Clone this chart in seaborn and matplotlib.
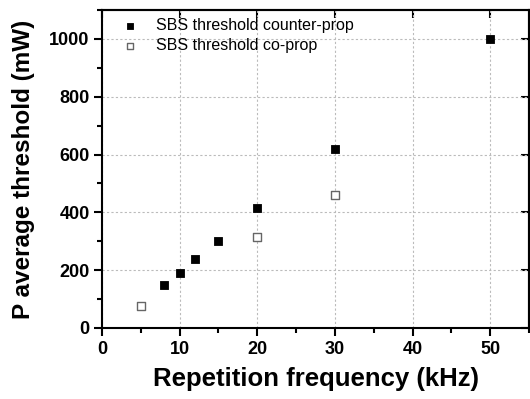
import pandas as pd
import matplotlib
matplotlib.use("Agg")
import matplotlib.pyplot as plt
import seaborn as sns
from matplotlib.ticker import MultipleLocator

# data
counter_freq = [8, 10, 12, 15, 20, 30, 50]
counter_thr = [150, 190, 240, 300, 415, 620, 1000]
co_freq = [5, 20, 30]
co_thr = [75, 315, 460]

label_counter = "SBS threshold counter-prop"
label_co = "SBS threshold co-prop"

df = pd.DataFrame({
    "freq": counter_freq + co_freq,
    "thr": counter_thr + co_thr,
    "series": [label_counter] * len(counter_freq) + [label_co] * len(co_freq),
})

sns.set_style("ticks")
plt.rcParams['font.family'] = ['Liberation Sans', 'DejaVu Sans']
plt.rcParams['text.color'] = 'black'
plt.rcParams['axes.labelcolor'] = 'black'
plt.rcParams['xtick.color'] = 'black'
plt.rcParams['ytick.color'] = 'black'

fig = plt.figure(figsize=(5.3, 3.99), dpi=100)
ax = fig.add_axes([102 / 530, 1 - 328 / 399, 427 / 530, 318 / 399])

sns.scatterplot(data=df[df.series == label_counter], x="freq", y="thr", marker="s",
                s=34, color="black", edgecolor="black", linewidth=0.6,
                label=label_counter, ax=ax, zorder=3)
sns.scatterplot(data=df[df.series == label_co], x="freq", y="thr", marker="s",
                s=34, facecolor="white", edgecolor="#666666", linewidth=1.0,
                label=label_co, ax=ax, zorder=3)

ax.set_xlim(0, 55)
ax.set_ylim(0, 1100)
ax.xaxis.set_major_locator(MultipleLocator(10))
ax.xaxis.set_minor_locator(MultipleLocator(5))
ax.yaxis.set_major_locator(MultipleLocator(200))
ax.yaxis.set_minor_locator(MultipleLocator(100))

ax.grid(True, which="major", color="#bbbbbb", linestyle=(0, (2, 2)), linewidth=0.8)
ax.set_axisbelow(True)

for sp in ax.spines.values():
    sp.set_visible(True)
    sp.set_linewidth(1.5)
    sp.set_color("black")

ax.tick_params(which="major", direction="out", length=6, width=1.5, labelsize=13,
               colors="black", pad=3)
ax.tick_params(which="minor", direction="out", length=3.5, width=1.5, colors="black")
for lab in ax.get_xticklabels() + ax.get_yticklabels():
    lab.set_fontweight("bold")

# mirrored ticks on top/right, pointing inward
top = ax.secondary_xaxis("top")
top.xaxis.set_major_locator(MultipleLocator(10))
top.tick_params(direction="in", length=6, width=1.5, labeltop=False, colors="black")
top.spines["top"].set_linewidth(1.5)
right = ax.secondary_yaxis("right")
right.yaxis.set_major_locator(MultipleLocator(200))
right.tick_params(direction="in", length=6, width=1.5, labelright=False, colors="black")
right.spines["right"].set_linewidth(1.5)

ax.set_xlabel("Repetition frequency (kHz)", fontsize=18.5, fontweight="bold",
              labelpad=7, color="black")
ax.set_ylabel("P average threshold (mW)", fontsize=17.5, fontweight="bold",
              labelpad=10, color="black")

ax.legend(loc="upper left", bbox_to_anchor=(0.014, 0.994), frameon=False,
          fontsize=11.5, handletextpad=0.6, borderaxespad=0.1, borderpad=0.3,
          labelspacing=0.3, markerscale=0.85)

fig.savefig("out.png", dpi=100)
